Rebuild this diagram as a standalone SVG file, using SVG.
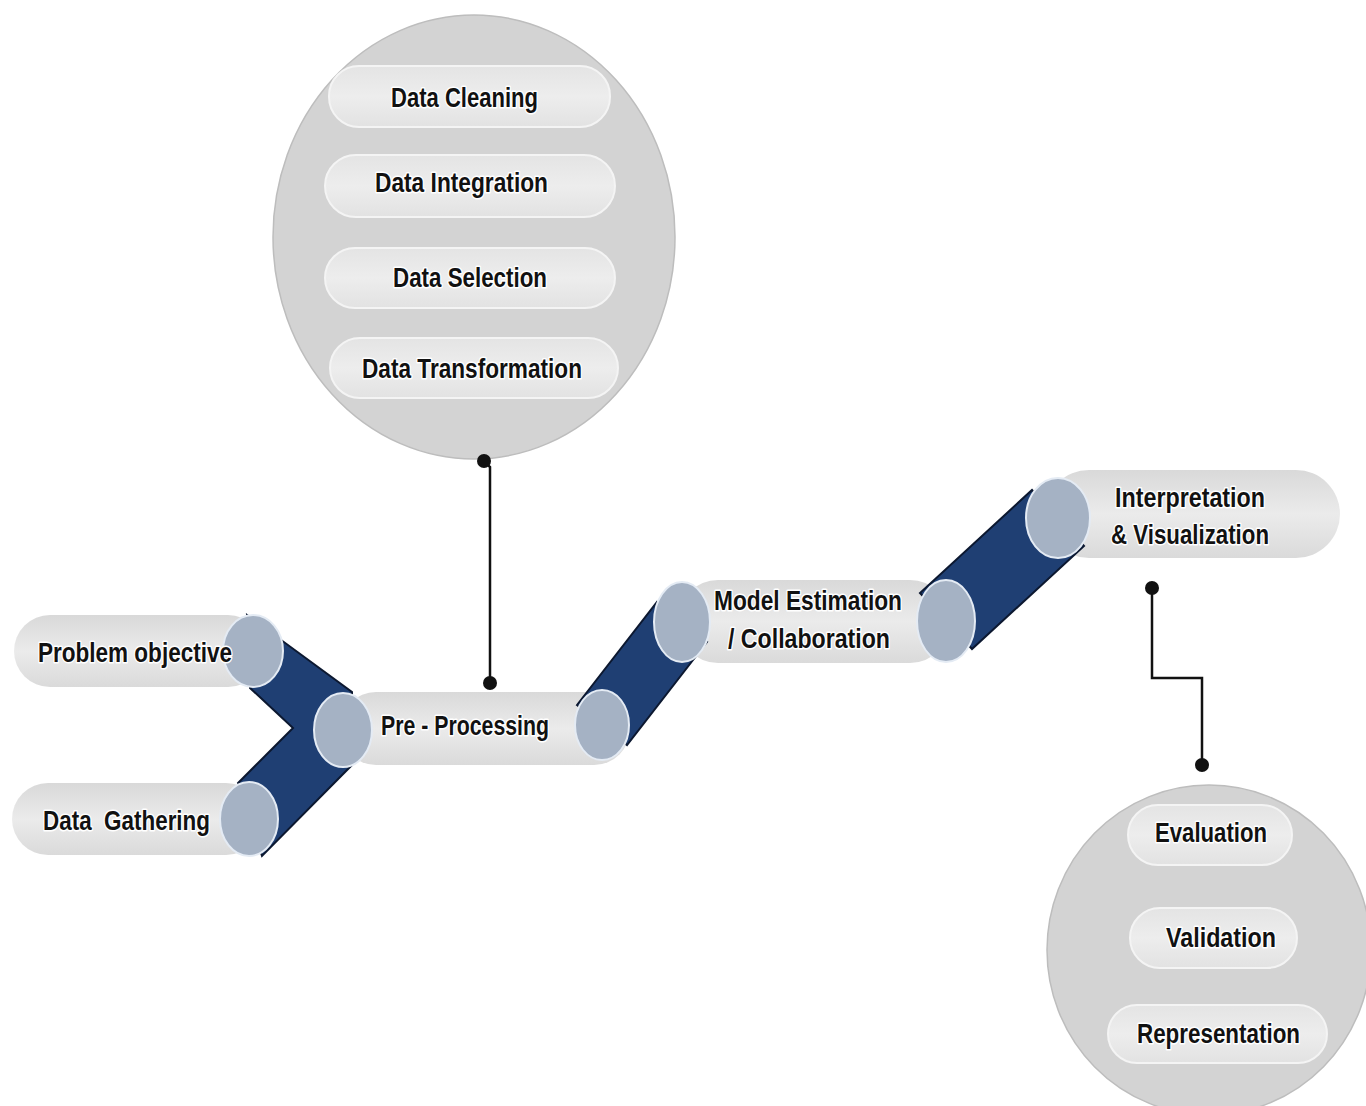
<svg xmlns="http://www.w3.org/2000/svg" width="1366" height="1106" viewBox="0 0 1366 1106">
<defs>
<linearGradient id="pipeGrad" x1="0" y1="0" x2="0" y2="1">
<stop offset="0" stop-color="#d9d9d9"/>
<stop offset="0.5" stop-color="#ebebeb"/>
<stop offset="1" stop-color="#dadada"/>
</linearGradient>
<linearGradient id="pillGrad" x1="0" y1="0" x2="0" y2="1">
<stop offset="0" stop-color="#e4e4e4"/>
<stop offset="0.5" stop-color="#ededed"/>
<stop offset="1" stop-color="#e2e2e2"/>
</linearGradient>
</defs>
<style>
.bubble{fill:#d3d3d3;stroke:#bdbdbd;stroke-width:1.5}
.pill{fill:url(#pillGrad);stroke:#f4f4f4;stroke-width:2}
.pipe{fill:url(#pipeGrad)}
.band{fill:#1f3f73;stroke:#0c1830;stroke-width:2}
.cap{fill:#a5b2c4;stroke:#e4ebf4;stroke-width:2}
.lbl{font-family:"Liberation Sans",Arial,sans-serif;font-weight:bold;font-size:28px;fill:#111;stroke:#ffffff;stroke-width:3;paint-order:stroke;stroke-linejoin:round;text-anchor:start}
.conn{fill:none;stroke:#111;stroke-width:2.5}
.dot{fill:#111}
</style>
<rect width="1366" height="1106" fill="#ffffff"/>

<g id="preprocessing-details">
<ellipse class="bubble" cx="474" cy="237" rx="201" ry="222"/>
<rect class="pill" x="329" y="66" width="281" height="61" rx="30"/>
<rect class="pill" x="325" y="155" width="290" height="62" rx="31"/>
<rect class="pill" x="325" y="248" width="290" height="60" rx="30"/>
<rect class="pill" x="330" y="338" width="288" height="60" rx="30"/>
<text class="lbl" x="391" y="107" textLength="147" lengthAdjust="spacingAndGlyphs">Data Cleaning</text>
<text class="lbl" x="375" y="192" textLength="173" lengthAdjust="spacingAndGlyphs">Data Integration</text>
<text class="lbl" x="393" y="287" textLength="154" lengthAdjust="spacingAndGlyphs">Data Selection</text>
<text class="lbl" x="362" y="378" textLength="220" lengthAdjust="spacingAndGlyphs">Data Transformation</text>
</g>

<g id="evaluation-details">
<ellipse class="bubble" cx="1209" cy="950" rx="162" ry="165"/>
<rect class="pill" x="1128" y="805" width="164" height="60" rx="30"/>
<rect class="pill" x="1130" y="908" width="167" height="60" rx="30"/>
<rect class="pill" x="1108" y="1005" width="219" height="58" rx="29"/>
<text class="lbl" x="1155" y="842" textLength="112" lengthAdjust="spacingAndGlyphs">Evaluation</text>
<text class="lbl" x="1166" y="947" textLength="110" lengthAdjust="spacingAndGlyphs">Validation</text>
<text class="lbl" x="1137" y="1043" textLength="163" lengthAdjust="spacingAndGlyphs">Representation</text>
</g>

<g id="connectors">
<path class="conn" d="M484,461 L490,467 L490,683"/>
<circle class="dot" cx="484" cy="461" r="7"/>
<circle class="dot" cx="490" cy="683" r="7"/>
<path class="conn" d="M1152,588 L1152,678 L1202,678 L1202,765"/>
<circle class="dot" cx="1152" cy="588" r="7"/>
<circle class="dot" cx="1202" cy="765" r="7"/>
</g>

<g id="problem-objective">
<rect class="pipe" x="14" y="615" width="250" height="72" rx="36"/>
</g>
<g id="data-gathering">
<rect class="pipe" x="12" y="783" width="250" height="72" rx="36"/>
</g>
<g id="pre-processing">
<rect class="pipe" x="340" y="692" width="290" height="73" rx="36"/>
</g>
<g id="model-estimation">
<rect class="pipe" x="678" y="580" width="272" height="83" rx="40"/>
</g>
<g id="interpretation">
<rect class="pipe" x="1045" y="470" width="295" height="88" rx="44"/>
</g>

<g id="pipes">
<polygon class="band" points="247,615 352,692 352,765 262,856 238,783 293,728 250,688"/>
<polygon class="band" points="577,705 627,745 707,642 657,602"/>
<polygon class="band" points="920,593 972,649 1084,546 1032,490"/>
<ellipse class="cap" cx="253" cy="651" rx="30" ry="36"/>
<ellipse class="cap" cx="249" cy="819" rx="29" ry="37"/>
<ellipse class="cap" cx="343" cy="730" rx="29" ry="37"/>
<ellipse class="cap" cx="602" cy="725" rx="27" ry="35"/>
<ellipse class="cap" cx="682" cy="622" rx="28" ry="40"/>
<ellipse class="cap" cx="946" cy="621" rx="29" ry="41"/>
<ellipse class="cap" cx="1058" cy="518" rx="32" ry="40"/>
</g>

<g id="labels">
<text class="lbl" x="38" y="662" textLength="194" lengthAdjust="spacingAndGlyphs">Problem objective</text>
<text class="lbl" x="43" y="830" textLength="167" lengthAdjust="spacingAndGlyphs" style="white-space:pre">Data  Gathering</text>
<text class="lbl" x="381" y="735" textLength="168" lengthAdjust="spacingAndGlyphs">Pre - Processing</text>
<text class="lbl" x="714" y="610" textLength="188" lengthAdjust="spacingAndGlyphs">Model Estimation</text>
<text class="lbl" x="728" y="648" textLength="162" lengthAdjust="spacingAndGlyphs">/ Collaboration</text>
<text class="lbl" x="1115" y="507" textLength="150" lengthAdjust="spacingAndGlyphs">Interpretation</text>
<text class="lbl" x="1111" y="544" textLength="158" lengthAdjust="spacingAndGlyphs">&amp; Visualization</text>
</g>
</svg>
